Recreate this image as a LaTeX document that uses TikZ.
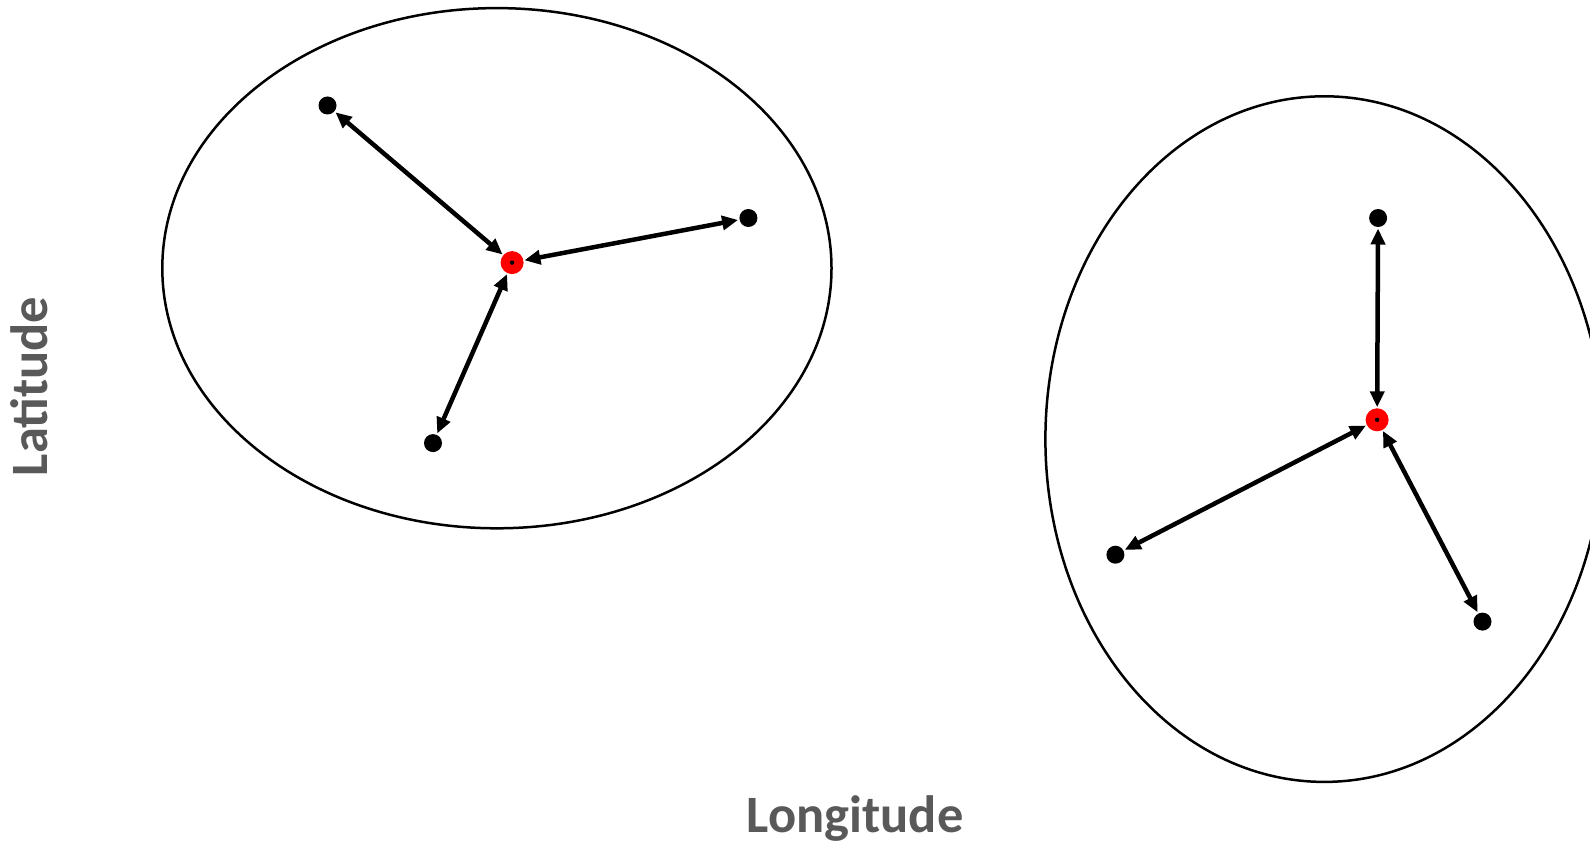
\documentclass[tikz,border=0pt]{standalone}
\usepackage{fontspec}
\setmainfont{Carlito}
\usetikzlibrary{arrows.meta}
\definecolor{labgray}{HTML}{595959}
\begin{document}
\begin{tikzpicture}[x=1pt,y=-1pt,
  blackdot/.style={circle,fill=black,inner sep=0pt,minimum size=18pt,outer sep=1.5pt},
  reddot/.style={circle,fill=red,inner sep=0pt,minimum size=23pt,outer sep=1pt},
  link/.style={line width=4.5pt,{Triangle[length=16pt,width=14pt]}-{Triangle[length=16pt,width=14pt]}},
  region/.style={line width=2.5pt},
  axislabel/.style={text=labgray,font=\fontsize{52.5}{62}\selectfont\bfseries,inner sep=0pt}]
\clip (0,0) rectangle (1590,845);
% regions
\draw[region] (496.9,268.2) ellipse [x radius=334.6, y radius=260.1];
\draw[region] (1324.3,439.1) ellipse [x radius=278.9, y radius=342.8];
% left cluster
\node[reddot] (c1) at (512.1,262.6) {};
\fill (c1) circle (2.2pt);
\node[blackdot] (a1) at (327.5,105.5) {};
\node[blackdot] (a2) at (748.4,218.0) {};
\node[blackdot] (a3) at (433.0,443.1) {};
\draw[link] (c1) -- (a1);
\draw[link] (c1) -- (a2);
\draw[link] (c1) -- (a3);
% right cluster
\node[reddot] (c2) at (1377.1,419.8) {};
\fill (c2) circle (2.2pt);
\node[blackdot] (b1) at (1378.1,218.0) {};
\node[blackdot] (b2) at (1115.4,554.7) {};
\node[blackdot] (b3) at (1482.5,621.6) {};
\draw[link] (c2) -- (b1);
\draw[link] (c2) -- (b2);
\draw[link] (c2) -- (b3);
% axis labels
\node[axislabel,anchor=base,rotate=90] (lat) at (47,386.5) {Latitude};
\node[axislabel,anchor=base] (lon) at (855,832) {Longitude};
\end{tikzpicture}
\end{document}
